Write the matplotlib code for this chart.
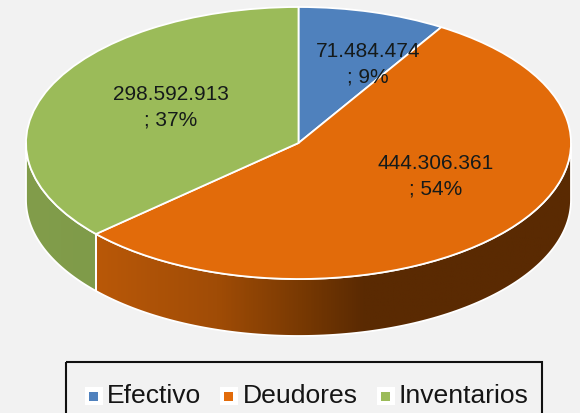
import numpy as np
import matplotlib
matplotlib.use('Agg')
import matplotlib.pyplot as plt
from matplotlib.colors import LinearSegmentedColormap
from matplotlib.patches import Polygon, Rectangle
from matplotlib.transforms import Affine2D

plt.rcParams['font.family'] = ['Liberation Sans', 'DejaVu Sans']

# Data
categories = ['Efectivo', 'Deudores', 'Inventarios']
values = [71484474, 444306361, 298592913]
percents = [9, 54, 37]
colors = ['#4f81bd', '#e26b0a', '#9bbb59']

# Pie geometry in pixels
cx, cy = 298.5, 143
rx, ry = 272.5, 136
depth = 57

fig = plt.figure(figsize=(5.8, 4.13), dpi=100, facecolor='#f2f2f2')
ax = fig.add_axes([0, 0, 1, 1])
ax.set_facecolor('#f2f2f2')

# Side wall: angles are measured clockwise from 12 o'clock
fractions = np.array(values) / sum(values)
edges = np.concatenate([[0], np.cumsum(fractions)]) * 360

def rim(theta_deg, drop=0):
    t = np.radians(theta_deg)
    return cx + rx * np.sin(t), cy - ry * np.cos(t) + drop

def side_points(a, b):
    t = np.linspace(a, b, 120)
    x, y = rim(t)
    xd, yd = rim(t[::-1], depth)
    return np.column_stack([np.r_[x, xd], np.r_[y, yd]])

orange_cmap = LinearSegmentedColormap.from_list(
    'orange_side', [(0, '#b95808'), (0.45, '#a04c06'), (0.75, '#7a3a03'), (1, '#5a2a02')])
green_cmap = LinearSegmentedColormap.from_list('green_side', ['#829d4b', '#7f9b49'])

sides = [(90, edges[2], orange_cmap, (96, 365)), (edges[2], 270, green_cmap, (26, 96))]
for a, b, cmap, (x0, x1) in sides:
    pts = side_points(a, b)
    shape = Polygon(pts, closed=True, facecolor='none', edgecolor='white', linewidth=1.3, zorder=2)
    ax.add_patch(shape)
    grad = np.linspace(0, 1, 256).reshape(1, -1)
    ext_x1 = 575 if cmap is orange_cmap else x1
    if cmap is orange_cmap:
        grad = np.clip(np.linspace(0, (ext_x1 - x0) / (x1 - x0), 256), 0, 1).reshape(1, -1)
    img = ax.imshow(grad, cmap=cmap, extent=(x0, ext_x1, 345, 130), aspect='auto', zorder=1, vmin=0, vmax=1)
    img.set_clip_path(shape)

# Top face
wedges, _ = ax.pie(values, colors=colors, startangle=90, counterclock=False, radius=1,
                   wedgeprops={'edgecolor': 'white', 'linewidth': 1.3}, frame=True)
squash = Affine2D().scale(rx, -ry).translate(cx, cy) + ax.transData
for w in wedges:
    w.set_transform(squash)
    w.set_zorder(3)

# Data labels
label_x = [368, 436, 171]
label_y = [64.5, 176.5, 107.5]
for v, p, x, y in zip(values, percents, label_x, label_y):
    txt = f'{v:,}'.replace(',', '.') + f'\n; {p}%'
    ax.text(x, y, txt, ha='center', va='center', fontsize=15, color='#151a1a',
            linespacing=1.45, zorder=5)

# Legend, cut off by the bottom of the figure
ax.add_patch(Rectangle((65.5, 362), 476, 70, facecolor='none', edgecolor='#111111',
                       linewidth=1.5, zorder=4))
marker_x = [93.5, 228.5, 385.5]
text_x = [107, 242.5, 398.5]
for name, col, mx, tx in zip(categories, colors, marker_x, text_x):
    ax.add_patch(Rectangle((mx - 9, 387), 18, 18, facecolor='white', edgecolor='none', zorder=4))
    ax.add_patch(Rectangle((mx - 4.5, 391.5), 9, 9, facecolor=col, edgecolor='none', zorder=5))
    ax.text(tx, 396, name, ha='left', va='center', fontsize=19.05, color='#151515', zorder=5)

ax.set_xlim(0, 580)
ax.set_ylim(413, 0)
ax.set_aspect('auto')
ax.axis('off')

fig.savefig('out.png', dpi=100, facecolor=fig.get_facecolor())
